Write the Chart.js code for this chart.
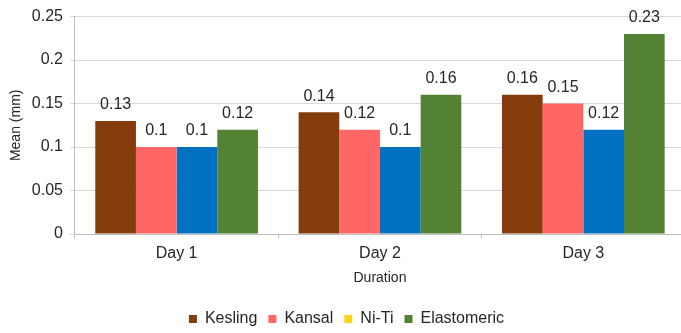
<!DOCTYPE html>
<html>
<head>
<meta charset="utf-8">
<script src="https://cdn.jsdelivr.net/npm/chart.js@4.4.1/dist/chart.umd.min.js"></script>
<style>
  html, body { margin: 0; padding: 0; background: #fff; overflow: hidden; }
  #wrap { width: 685px; height: 333px; position: relative; }
</style>
</head>
<body>
<div id="wrap"><canvas id="chart"></canvas></div>
<script>
// Mean wire measurements by day for each ligation type
const categories = ['Day 1', 'Day 2', 'Day 3'];
const seriesNames = ['Kesling', 'Kansal', 'Ni-Ti', 'Elastomeric'];
const kesling = [0.13, 0.14, 0.16];
const kansal = [0.10, 0.12, 0.15];
const niti = [0.10, 0.10, 0.12];
const elastomeric = [0.12, 0.16, 0.23];
const yTicks = [0, 0.05, 0.1, 0.15, 0.2, 0.25];

const barColors = ['#843C0C', '#FF6666', '#0070C0', '#548235'];
const legendColors = ['#843C0C', '#FF6666', '#FFD320', '#548235'];
const FONT = '"Liberation Sans", Arial, sans-serif';
const TEXT = '#262626';

const seriesValues = [kesling, kansal, niti, elastomeric];

// Writes each bar's value just above it
const valueLabels = {
  id: 'valueLabels',
  afterDatasetsDraw(chart) {
    const ctx = chart.ctx;
    ctx.save();
    ctx.font = '16px ' + FONT;
    ctx.fillStyle = TEXT;
    ctx.textAlign = 'center';
    ctx.textBaseline = 'middle';
    chart.data.datasets.forEach((ds, i) => {
      const meta = chart.getDatasetMeta(i);
      meta.data.forEach((bar, j) => {
        ctx.fillText(String(ds.data[j]), bar.x, bar.y - 16);
      });
    });
    ctx.restore();
  }
};

new Chart(document.getElementById('chart'), {
  type: 'bar',
  data: {
    labels: categories,
    datasets: seriesNames.map((name, i) => ({
      label: name,
      data: seriesValues[i],
      backgroundColor: barColors[i],
      borderWidth: 0,
      categoryPercentage: 0.8,
      barPercentage: 1.0
    }))
  },
  options: {
    responsive: true,
    maintainAspectRatio: false,
    animation: false,
    layout: { padding: { left: 8, right: 0, top: 8, bottom: -4 } },
    plugins: {
      tooltip: { enabled: false },
      legend: {
        position: 'bottom',
        labels: {
          color: TEXT,
          font: { family: FONT, size: 16 },
          boxWidth: 8,
          boxHeight: 8,
          padding: 11,
          generateLabels(chart) {
            return chart.data.datasets.map((ds, i) => ({
              text: ds.label,
              fillStyle: legendColors[i],
              strokeStyle: legendColors[i],
              lineWidth: 0,
              hidden: false,
              datasetIndex: i,
              fontColor: TEXT
            }));
          }
        }
      }
    },
    scales: {
      x: {
        grid: {
          offset: true,
          drawOnChartArea: false,
          drawTicks: true,
          tickLength: 4,
          color: '#BFBFBF'
        },
        border: { color: '#BFBFBF' },
        ticks: {
          color: TEXT,
          font: { family: FONT, size: 16 },
          padding: 6
        },
        title: {
          display: true,
          text: 'Duration',
          color: TEXT,
          font: { family: FONT, size: 14 },
          padding: { top: 1, bottom: 13 }
        }
      },
      y: {
        min: 0,
        max: 0.25,
        afterBuildTicks(scale) {
          scale.ticks = yTicks.map(v => ({ value: v }));
        },
        grid: {
          color: '#D9D9D9',
          tickLength: 5
        },
        border: { color: '#BFBFBF' },
        ticks: {
          color: TEXT,
          font: { family: FONT, size: 16 },
          padding: 7,
          callback: v => String(v)
        },
        title: {
          display: true,
          text: 'Mean (mm)',
          color: TEXT,
          font: { family: FONT, size: 14 },
          padding: { top: 0, bottom: 0 }
        }
      }
    }
  },
  plugins: [valueLabels]
});
</script>
</body>
</html>
